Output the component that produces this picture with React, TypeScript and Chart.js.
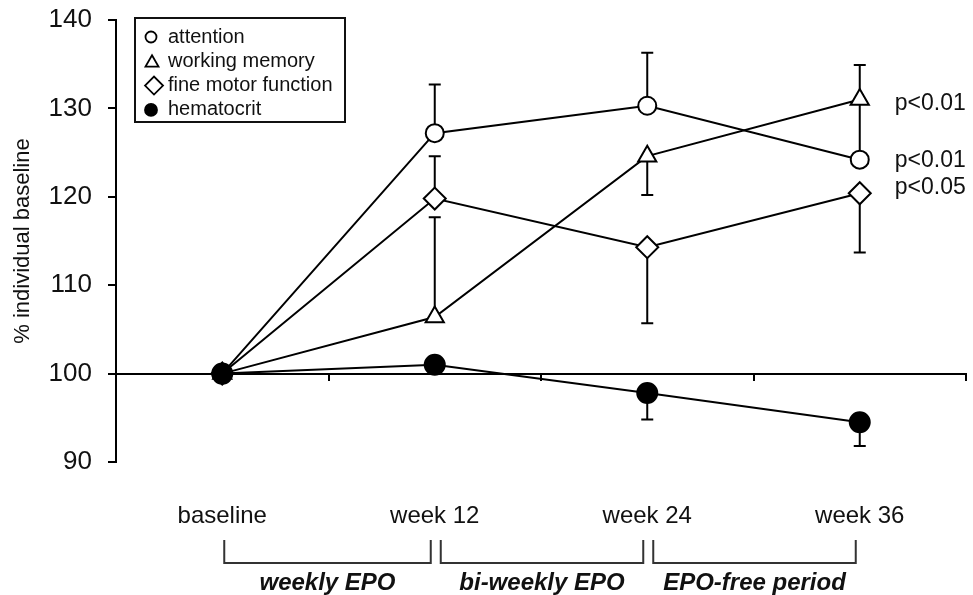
import React, { useEffect, useRef } from "react";
import { Chart, registerables } from "chart.js";
import { drawPoint } from "chart.js/helpers";

Chart.register(...registerables);

const categories = ["baseline", "week 12", "week 24", "week 36"];
const seriesNames = ["attention", "working memory", "fine motor function", "hematocrit"];
const attention = [100, 127.2, 130.3, 124.2];
const attentionErrEnd = [null, 132.7, 136.3, 131.0];
const workingMemory = [100, 106.4, 124.6, 131.0];
const workingMemoryErrEnd = [null, 117.7, 120.2, 134.9];
const fineMotor = [100, 119.8, 114.3, 120.4];
const fineMotorErrEnd = [null, 124.6, 105.7, 113.7];
const hematocrit = [100, 101.0, 97.8, 94.5];
const hematocritErrEnd = [null, null, 94.8, 91.8];
const pValueLabels = ["p<0.01", "p<0.01", "p<0.05", null];
const periods = ["weekly EPO", "bi-weekly EPO", "EPO-free period"];
const yMin = 90;
const yMax = 140;
const yStep = 10;

const FONT = "'Liberation Sans', Arial, Helvetica, sans-serif";

const errorBarPlugin = {
  id: "errorBars",
  beforeDatasetsDraw(chart: any) {
    const { ctx } = chart;
    const ys = chart.scales.y;
    ctx.save();
    ctx.strokeStyle = "#000";
    ctx.lineWidth = 2;
    chart.data.datasets.forEach((ds: any, di: number) => {
      const meta = chart.getDatasetMeta(di);
      (ds.errEnd || []).forEach((e: number | null, i: number) => {
        if (e == null) return;
        const pt = meta.data[i];
        const x = pt.x;
        const y0 = ys.getPixelForValue(ds.data[i]);
        const y1 = ys.getPixelForValue(e);
        ctx.beginPath();
        ctx.moveTo(x, y0);
        ctx.lineTo(x, y1);
        ctx.moveTo(x - 6, y1);
        ctx.lineTo(x + 6, y1);
        ctx.stroke();
      });
    });
    ctx.restore();
  },
};

const pOffsets = [7, 10, 1, 0];

const annotationPlugin = {
  id: "annotations",
  afterDraw(chart: any) {
    const { ctx, chartArea } = chart;
    const xs = chart.scales.x;
    const ys = chart.scales.y;
    ctx.save();
    // p-values
    ctx.fillStyle = "#111";
    ctx.font = `23px ${FONT}`;
    ctx.textAlign = "left";
    ctx.textBaseline = "alphabetic";
    chart.data.datasets.forEach((ds: any, di: number) => {
      const lbl = pValueLabels[di];
      if (!lbl) return;
      const last = ds.data.length - 1;
      const x = xs.getPixelForValue(last) + 35;
      const y = ys.getPixelForValue(ds.data[last]) + pOffsets[di];
      ctx.fillText(lbl, x, y);
    });

    // period brackets
    const top = chartArea.bottom + 78;
    const bot = chartArea.bottom + 101;
    ctx.strokeStyle = "#333";
    ctx.lineWidth = 2;
    ctx.font = `italic bold 24px ${FONT}`;
    ctx.textAlign = "center";
    periods.forEach((p, i) => {
      const xa = xs.getPixelForValue(i) + (i === 0 ? 2 : 6);
      const xb = xs.getPixelForValue(i + 1) - 4;
      ctx.beginPath();
      ctx.moveTo(xa, top);
      ctx.lineTo(xa, bot);
      ctx.lineTo(xb, bot);
      ctx.lineTo(xb, top);
      ctx.stroke();
      ctx.fillText(p, (xa + xb) / 2, chartArea.bottom + 128);
    });

    // legend
    const lx = chartArea.left + 19;
    const ly = chartArea.top - 2;
    const lw = 210;
    const lh = 104;
    ctx.fillStyle = "#fff";
    ctx.fillRect(lx, ly, lw, lh);
    ctx.strokeStyle = "#111";
    ctx.lineWidth = 2;
    ctx.strokeRect(lx, ly, lw, lh);
    const legendRadius = [5.5, 7.5, 9, 6];
    const legendDx = [16, 17, 19, 16];
    chart.data.datasets.forEach((ds: any, di: number) => {
      const cy = ly + 19 + di * 24.3;
      ctx.fillStyle = ds.pointBackgroundColor;
      ctx.strokeStyle = "#000";
      ctx.lineWidth = 1.8;
      drawPoint(ctx, { pointStyle: ds.pointStyle, radius: legendRadius[di], rotation: 0, borderWidth: 1.8 }, lx + legendDx[di], cy + (ds.pointStyle === "triangle" ? 1.5 : 0));
      ctx.fillStyle = "#111";
      ctx.font = `20px ${FONT}`;
      ctx.textAlign = "left";
      ctx.textBaseline = "middle";
      ctx.fillText(ds.label, lx + 33, cy);
    });
    ctx.restore();
  },
};

function makeDataset(label: string, data: number[], errEnd: (number | null)[], style: string, radius: number, fill: string, order: number) {
  return {
    label,
    data,
    errEnd,
    xAxisID: "x",
    yAxisID: "y",
    borderColor: "#000",
    borderWidth: 2,
    tension: 0,
    pointStyle: style,
    pointRadius: radius,
    pointBackgroundColor: fill,
    pointBorderColor: "#000",
    pointBorderWidth: 2,
    order,
  };
}

const zeroPad = (s: any) => {
  s.paddingTop = 0;
  s.paddingBottom = 0;
  s.paddingLeft = 0;
  s.paddingRight = 0;
};

export default function App() {
  const ref = useRef<HTMLCanvasElement | null>(null);
  useEffect(() => {
    if (!ref.current) return;
    Chart.defaults.font.family = FONT;
    Chart.defaults.color = "#111";
    const chart = new Chart(ref.current, {
      type: "line",
      data: {
        labels: categories,
        datasets: [
          makeDataset(seriesNames[0], attention, attentionErrEnd, "circle", 9, "#fff", 1),
          makeDataset(seriesNames[1], workingMemory, workingMemoryErrEnd, "triangle", 10.5, "#fff", 1),
          makeDataset(seriesNames[2], fineMotor, fineMotorErrEnd, "rectRot", 11, "#fff", 1),
          makeDataset(seriesNames[3], hematocrit, hematocritErrEnd, "circle", 10, "#000", 0),
        ] as any,
      },
      options: {
        responsive: false,
        animation: false,
        devicePixelRatio: 1,
        layout: { autoPadding: false, padding: { top: 20, right: 7, left: 0, bottom: 0 } },
        plugins: { legend: { display: false }, tooltip: { enabled: false } },
        scales: {
          x: {
            type: "category",
            position: "bottom",
            offset: true,
            grid: { display: false, drawTicks: false },
            border: { display: false },
            ticks: { font: { size: 24 }, color: "#111", padding: 40, maxRotation: 0, autoSkip: false },
            afterFit: (s: any) => { s.height = 133; zeroPad(s); },
          },
          xAxis: {
            type: "category",
            position: { y: 100 },
            offset: true,
            grid: { offset: true, drawOnChartArea: false, color: "#000", lineWidth: 2, tickLength: 6 },
            border: { color: "#000", width: 2 },
            ticks: { display: false },
            afterFit: (s: any) => { zeroPad(s); },
          },
          y: {
            min: yMin,
            max: yMax,
            ticks: { stepSize: yStep, font: { size: 26 }, color: "#111", padding: 16 },
            grid: { drawOnChartArea: false, color: "#000", lineWidth: 2, tickLength: 8 },
            border: { color: "#000", width: 2 },
            title: { display: true, text: "% individual baseline", font: { size: 22 }, color: "#111", padding: { top: 10, bottom: 0 } },
            afterFit: (s: any) => { s.width = 116; zeroPad(s); },
          },
        } as any,
      },
      plugins: [errorBarPlugin, annotationPlugin],
    });
    return () => chart.destroy();
  }, []);
  return (
    <div style={{ position: "absolute", left: 0, top: 0, width: 973, height: 595, background: "#fff" }}>
      <canvas ref={ref} width={973} height={595} />
    </div>
  );
}
